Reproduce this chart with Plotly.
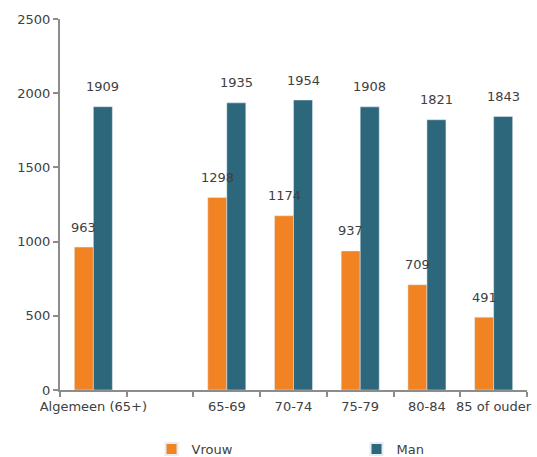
import plotly.graph_objects as go

# Leeftijdsgroepen (lege categorie als scheiding na "Algemeen")
categories = ["Algemeen (65+)", " ", "65-69", "70-74", "75-79", "80-84", "85 of ouder"]
vrouw = [963, None, 1298, 1174, 937, 709, 491]
man = [1909, None, 1935, 1954, 1908, 1821, 1843]

ORANGE = "#F28322"
BLUE = "#2D677C"
TEXT = "#404040"
AXIS = "#8C8C8C"
FONT = "DejaVu Sans"

fig = go.Figure()
fig.add_trace(go.Bar(name="Vrouw", x=categories, y=vrouw, marker_color=ORANGE))
fig.add_trace(go.Bar(name="Man", x=categories, y=man, marker_color=BLUE))

# waardelabels boven de staven
half_bar = 9.5
for series, shift in ((vrouw, -half_bar), (man, half_bar)):
    for cat, val in zip(categories, series):
        if val is None:
            continue
        fig.add_annotation(
            x=cat, y=val, text=str(val), showarrow=False,
            xshift=shift, yshift=20, yanchor="middle",
            font=dict(family=FONT, size=13, color=TEXT),
        )

fig.update_layout(
    width=537, height=457,
    margin=dict(l=60, r=10, t=19, b=67, autoexpand=False),
    plot_bgcolor="white", paper_bgcolor="white",
    barmode="group", bargap=0.43, bargroupgap=0,
    font=dict(family=FONT, size=13, color=TEXT),
    showlegend=True,
    legend=dict(
        orientation="h", x=0.196, xanchor="left", y=-0.159, yanchor="middle",
        font=dict(family=FONT, size=13, color=TEXT),
        itemsizing="constant", tracegroupgap=0, itemwidth=30,
        entrywidth=160,
    ),
    xaxis=dict(
        type="category", categoryorder="array", categoryarray=categories,
        showline=True, linecolor=AXIS, linewidth=2,
        ticks="outside", tickson="boundaries", ticklen=5, tickcolor=AXIS, tickwidth=2,
        showgrid=False, tickangle=0, automargin=False, ticklabelstandoff=3,
        tickfont=dict(family=FONT, size=13, color=TEXT),
    ),
    yaxis=dict(
        range=[0, 2500], dtick=500, tick0=0,
        showline=True, linecolor=AXIS, linewidth=2,
        ticks="outside", ticklen=5, tickcolor=AXIS, tickwidth=2,
        showgrid=False, zeroline=False, automargin=False,
        tickfont=dict(family=FONT, size=13, color=TEXT),
    ),
)

fig.write_html("out.html")
